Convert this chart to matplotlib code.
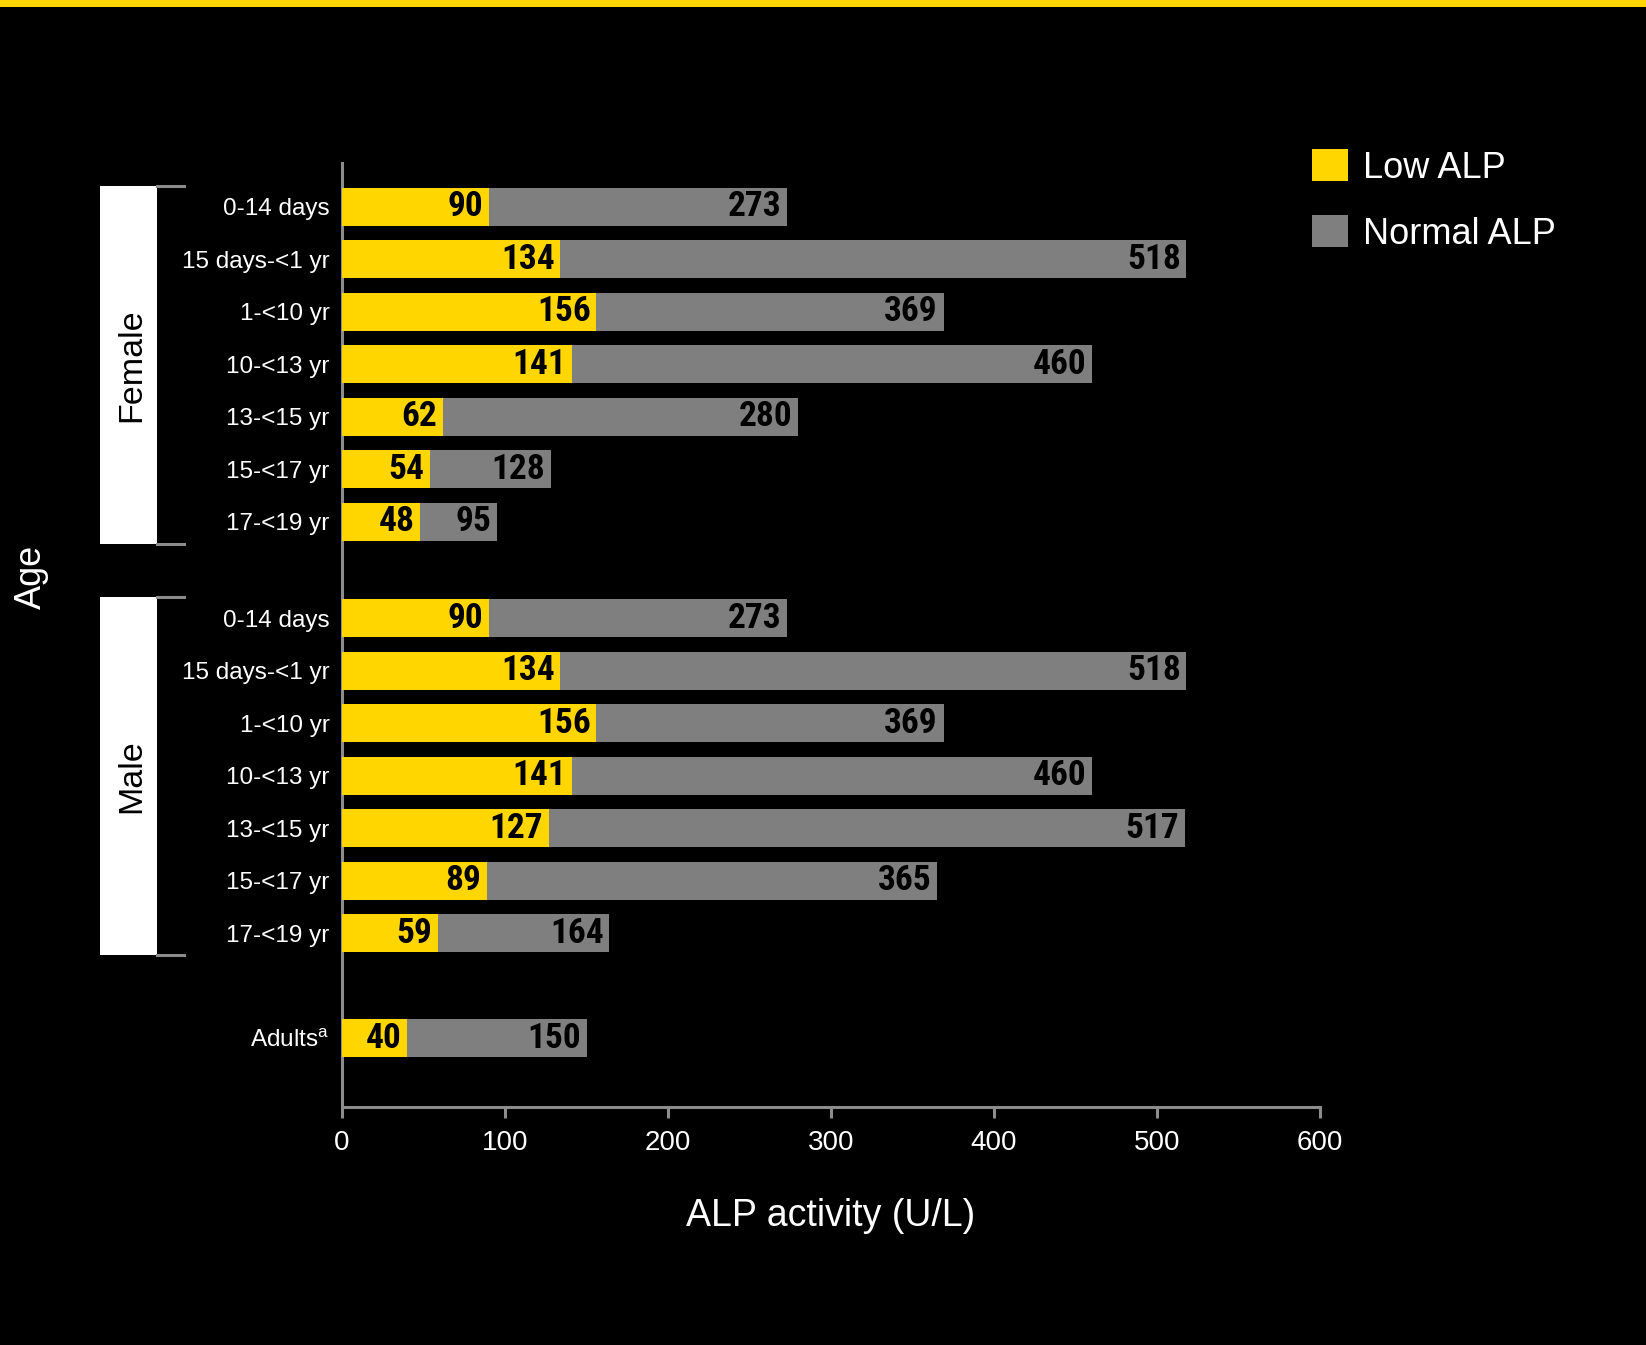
import matplotlib
matplotlib.use("Agg")
import matplotlib.pyplot as plt
import matplotlib.transforms as mtransforms
from matplotlib.patches import Rectangle, Patch
from matplotlib.lines import Line2D
from matplotlib import font_manager
from matplotlib.font_manager import FontProperties

# ---------------- data ----------------
age_groups = ["0-14 days", "15 days-<1 yr", "1-<10 yr", "10-<13 yr",
              "13-<15 yr", "15-<17 yr", "17-<19 yr"]
female_low = [90, 134, 156, 141, 62, 54, 48]
female_high = [273, 518, 369, 460, 280, 128, 95]
male_low = [90, 134, 156, 141, 127, 89, 59]
male_high = [273, 518, 369, 460, 517, 365, 164]
adult_label = "Adults$^{\\mathregular{a}}$"
adult_low = [40]
adult_high = [150]
x_ticks = [0, 100, 200, 300, 400, 500, 600]
group_names = ["Female", "Male"]
series_names = ["Low ALP", "Normal ALP"]

YELLOW = "#FFD600"
GRAY = "#7F7F7F"
AXIS_GRAY = "#8C8C8C"

plt.rcParams["font.family"] = ["Liberation Sans", "DejaVu Sans"]


def _weight(f):
    w = f.weight
    if isinstance(w, str):
        return {"bold": 700, "heavy": 800, "black": 900, "semibold": 600,
                "demibold": 600, "extra bold": 800}.get(w.lower(), 400)
    return int(w)


def find_condensed_bold():
    cond = ("condensed", "extra-condensed", "ultra-condensed", "semi-condensed")
    fl = font_manager.fontManager.ttflist
    prefs = ["liberation sans narrow", "noto sans", "roboto", "open sans",
             "dejavu sans", "liberation sans"]
    best = None
    for fam in prefs:
        for f in fl:
            nm = f.name.lower()
            fn = f.fname.lower()
            is_cond = (str(f.stretch) in cond) or ("narrow" in nm) or ("condensed" in fn) \
                or ("narrow" in fn)
            if nm.startswith(fam) and is_cond and _weight(f) >= 700 and "italic" not in fn \
                    and f.style == "normal":
                score = 0
                if "extra" in fn or "ultra" in fn or "semi" in fn:
                    score += 1
                if _weight(f) > 700:
                    score += 1
                if best is None or score < best[0]:
                    best = (score, f.fname)
        if best is not None:
            return FontProperties(fname=best[1])
    return FontProperties(family="Liberation Sans", weight="bold")


VAL_FP = find_condensed_bold()
VAL_FP.set_size(25.5)

fig = plt.figure(figsize=(16.46, 13.45), dpi=100, facecolor="black")
ax = fig.add_axes([0.2078, 0.1767, 0.5942, 0.7023])
ax.set_facecolor("black")

# positions
gap = 0.84
f_pos = [i for i in range(len(age_groups))]
m_pos = [len(age_groups) + gap + i for i in range(len(age_groups))]
a_pos = [m_pos[-1] + 2.0]

lows = female_low + male_low + adult_low
highs = female_high + male_high + adult_high
pos = f_pos + m_pos + a_pos
labels = age_groups + age_groups + [adult_label]

bh = 0.72
ax.barh(pos, lows, height=bh, color=YELLOW, zorder=3)
ax.barh(pos, [h - l for h, l in zip(highs, lows)], left=lows, height=bh,
        color=GRAY, zorder=3)

off = 3.5
for p, l, h in zip(pos, lows, highs):
    ax.text(l - off, p, str(l), ha="right", va="center", color="black",
            fontproperties=VAL_FP, zorder=4)
    ax.text(h - off, p, str(h), ha="right", va="center", color="black",
            fontproperties=VAL_FP, zorder=4)

ax.set_xlim(0, 600)
ax.set_ylim(pos[-1] + 1.32, -0.84)
ax.set_xticks(x_ticks)
ax.set_xticklabels([str(t) for t in x_ticks])
ax.set_yticks(pos)
ax.set_yticklabels(labels)

for s in ["top", "right"]:
    ax.spines[s].set_visible(False)
for s in ["left", "bottom"]:
    ax.spines[s].set_color(AXIS_GRAY)
    ax.spines[s].set_linewidth(2.2)

ax.tick_params(axis="x", colors=AXIS_GRAY, direction="out", length=8, width=2.2,
               labelcolor="white", labelsize=20, pad=8)
ax.tick_params(axis="y", length=0, labelcolor="white", labelsize=17.5, pad=9)

ax.set_xlabel("ALP activity (U/L)", color="white", fontsize=27)
ax.xaxis.set_label_coords(0.5, -0.115)
ax.xaxis.label.set_va("center")
ax.set_ylabel("Age", color="white", fontsize=26)
ax.yaxis.set_label_coords(-0.3175, 0.5615)
ax.yaxis.label.set_va("center")

# group brackets
trans = mtransforms.blended_transform_factory(ax.transAxes, ax.transData)
box_x0, box_x1, line_x1 = -0.2474, -0.189, -0.1616
for name, rows in zip(group_names, [f_pos, m_pos]):
    y0 = rows[0] - 0.4
    y1 = rows[-1] + 0.42
    ax.add_patch(Rectangle((box_x0, y0), box_x1 - box_x0, y1 - y0,
                           transform=trans, facecolor="white", edgecolor="none",
                           clip_on=False, zorder=2))
    for yy in (y0, y1):
        ax.add_line(Line2D([box_x1, line_x1], [yy, yy], transform=trans,
                           color=AXIS_GRAY, lw=2.2, clip_on=False))
    ax.text((box_x0 + box_x1) / 2 + 0.003, (y0 + y1) / 2, name, transform=trans,
            rotation=90, ha="center", va="center", color="black", fontsize=24.5)

# legend
handles = [Patch(facecolor=YELLOW, edgecolor="none"),
           Patch(facecolor=GRAY, edgecolor="none")]
leg = fig.legend(handles, series_names, loc="upper left",
                 bbox_to_anchor=(1312 / 1646, 1 - 149 / 1345),
                 frameon=False, fontsize=26, handlelength=1.0, handleheight=1.0,
                 handletextpad=0.42, labelspacing=0.82, borderpad=0, borderaxespad=0)
for t in leg.get_texts():
    t.set_color("white")

# top yellow strip
fig.patches.append(Rectangle((0, 1 - 7 / 1345), 1, 7 / 1345, transform=fig.transFigure,
                             facecolor=YELLOW, edgecolor="none"))

fig.savefig("out.png", dpi=100, facecolor="black")
